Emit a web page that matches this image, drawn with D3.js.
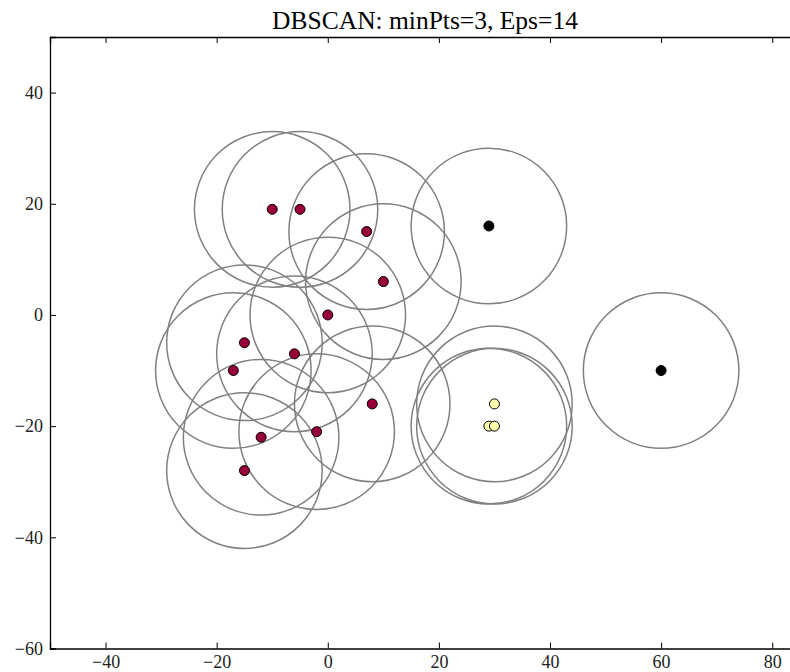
<html>
<head>
<meta charset="utf-8">
<style>
  body { margin: 0; background: #fff; }
  text { font-family: "Liberation Serif", "DejaVu Serif", serif; }
</style>
</head>
<body>
<svg width="790" height="672"></svg>
<script src="https://d3js.org/d3.v7.min.js"></script>
<script>
// cluster 1 (core + border points)
var clusterA = [
  { x: -10, y: 19 }, { x: -5, y: 19 }, { x: 7, y: 15 }, { x: 10, y: 6 },
  { x: 0, y: 0 }, { x: -15, y: -5 }, { x: -6, y: -7 }, { x: -17, y: -10 },
  { x: 8, y: -16 }, { x: -2, y: -21 }, { x: -12, y: -22 }, { x: -15, y: -28 }
];
// cluster 2
var clusterB = [ { x: 30, y: -16 }, { x: 29, y: -20 }, { x: 30, y: -20 } ];
// noise
var noise = [ { x: 29, y: 16 }, { x: 60, y: -10 } ];

var eps = 14;
var xTicks = [-40, -20, 0, 20, 40, 60, 80];
var yTicks = [-60, -40, -20, 0, 20, 40];
var title = "DBSCAN: minPts=3, Eps=14";

var margin = { top: 37, left: 50 };
var width = 750, height = 611.5;

var svg = d3.select("svg");
var g = svg.append("g")
  .attr("transform", "translate(" + margin.left + "," + margin.top + ")");

var x = d3.scaleLinear().domain([-50, 85]).range([0, width]);
var y = d3.scaleLinear().domain([-60, 50]).range([height, 0]);

// eps circles
var all = clusterA.concat(clusterB).concat(noise);
g.selectAll("ellipse.eps").data(all).enter().append("ellipse")
  .attr("class", "eps")
  .attr("cx", d => x(d.x))
  .attr("cy", d => y(d.y))
  .attr("rx", x(eps) - x(0))
  .attr("ry", y(0) - y(eps))
  .attr("fill", "none")
  .attr("stroke", "#808080")
  .attr("stroke-width", 1.5);

function dots(data, fill, stroke) {
  g.selectAll(null).data(data).enter().append("circle")
    .attr("cx", d => x(d.x))
    .attr("cy", d => y(d.y))
    .attr("r", 5)
    .attr("fill", fill)
    .attr("stroke", stroke)
    .attr("stroke-width", 1);
}
dots(clusterA, "#99003a", "#000");
dots(clusterB, "#ffffb0", "#000");
dots(noise, "#000", "#000");

// axes, ticks inward
var fmt = d3.format("d");
var xb = g.append("g").attr("transform", "translate(0," + height + ")")
  .call(d3.axisBottom(x).tickValues(xTicks).tickFormat(fmt).tickSize(-6).tickPadding(7));
var xt = g.append("g")
  .call(d3.axisTop(x).tickValues(xTicks).tickFormat("").tickSize(-6));
var yl = g.append("g")
  .call(d3.axisLeft(y).tickValues(yTicks).tickFormat(fmt).tickSize(-6).tickPadding(7));

[xb, xt, yl].forEach(function(a) {
  a.select(".domain").attr("stroke", "#000").attr("stroke-width", 1.3);
  a.selectAll(".tick line").attr("stroke", "#000");
  a.selectAll(".tick text").attr("fill", "#222").style("font-size", "18px")
    .style("font-family", '"Liberation Serif", serif');
});

svg.append("text")
  .attr("x", margin.left + width / 2)
  .attr("y", 29)
  .attr("text-anchor", "middle")
  .style("font-size", "25.5px")
  .text(title);
</script>
</body>
</html>
